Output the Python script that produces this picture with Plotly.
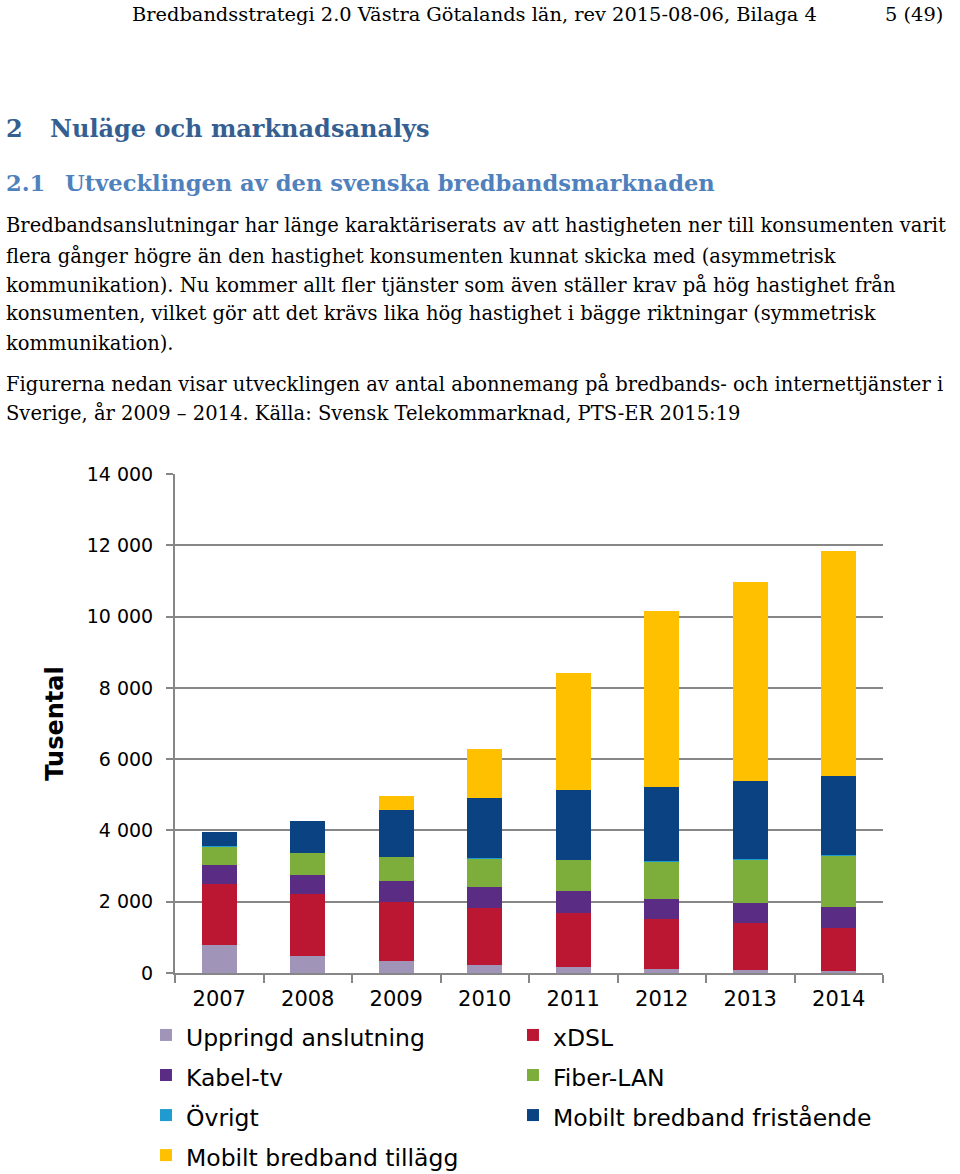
import plotly.graph_objects as go

years = ["2007", "2008", "2009", "2010", "2011", "2012", "2013", "2014"]
uppringd = [795, 490, 325, 235, 180, 100, 80, 60]
xdsl = [1700, 1720, 1665, 1590, 1515, 1405, 1330, 1215]
kabel_tv = [535, 550, 580, 590, 595, 580, 560, 590]
fiber_lan = [520, 610, 690, 795, 890, 1045, 1225, 1445]
ovrigt = [4, 4, 4, 4, 4, 4, 4, 4]
mobilt_fristaende = [390, 885, 1310, 1700, 1955, 2085, 2180, 2205]
mobilt_tillagg = [0, 0, 400, 1370, 3265, 4945, 5580, 6310]

series = [
    ("Uppringd anslutning", uppringd, "#A095B8"),
    ("xDSL", xdsl, "#BB1632"),
    ("Kabel-tv", kabel_tv, "#5B2C83"),
    ("Fiber-LAN", fiber_lan, "#7DAE3B"),
    ("Övrigt", ovrigt, "#1F9BCF"),
    ("Mobilt bredband fristående", mobilt_fristaende, "#0A4282"),
    ("Mobilt bredband tillägg", mobilt_tillagg, "#FFC000"),
]

y_ticks = [0, 2000, 4000, 6000, 8000, 10000, 12000, 14000]
y_ticklabels = ["0", "2 000", "4 000", "6 000", "8 000", "10 000", "12 000", "14 000"]

W, H = 960, 1174
L, R, T, B = 175, 77, 474, 201
PW, PH = W - L - R, H - T - B

fig = go.Figure()
for name, vals, col in series:
    fig.add_trace(go.Bar(
        x=years, y=vals,
        name='<span style="font-size:23.5px">' + name + '</span>',
        marker=dict(color=col, line=dict(width=0)),
    ))

def px(x):
    return (x - L) / PW

def py(y):
    return (H - B - y) / PH

body = "DejaVu Serif, Liberation Serif, serif"
head = "DejaVu Serif, serif"
annots = []
def txt(x, y, s, size, font=body, color="#000000", bold=False, anchor="left"):
    if bold:
        s = "<b>" + s + "</b>"
    annots.append(dict(x=px(x), y=py(y), xref="paper", yref="paper", text=s, showarrow=False,
                       xanchor=anchor, yanchor="middle",
                       font=dict(family=font, size=size, color=color)))

txt(130, 14, "Bredbandsstrategi 2.0 Västra Götalands län, rev 2015-08-06, Bilaga 4", 19.4)
txt(945, 14, "5 (49)", 19.4, anchor="right")
txt(4, 128, "2", 24, head, "#365F91", True)
txt(48, 128, "Nuläge och marknadsanalys", 24, head, "#365F91", True)
txt(4, 183, "2.1", 22.6, head, "#4F81BD", True)
txt(63, 183, "Utvecklingen av den svenska bredbandsmarknaden", 22.6, head, "#4F81BD", True)
lines = [
    (226, "Bredbandsanslutningar har länge karaktäriserats av att hastigheten ner till konsumenten varit"),
    (256, "flera gånger högre än den hastighet konsumenten kunnat skicka med (asymmetrisk"),
    (285, "kommunikation). Nu kommer allt fler tjänster som även ställer krav på hög hastighet från"),
    (314, "konsumenten, vilket gör att det krävs lika hög hastighet i bägge riktningar (symmetrisk"),
    (343, "kommunikation)."),
    (384, "Figurerna nedan visar utvecklingen av antal abonnemang på bredbands- och internettjänster i"),
    (413, "Sverige, år 2009 – 2014. Källa: Svensk Telekommarknad, PTS-ER 2015:19"),
]
for yy, s in lines:
    txt(4, yy, s, 19.5)

fig.update_layout(
    width=W, height=H,
    margin=dict(l=L, r=R, t=T, b=B, pad=0, autoexpand=False),
    paper_bgcolor="white", plot_bgcolor="white",
    barmode="stack", bargap=0.6,
    font=dict(family="DejaVu Sans, Verdana, sans-serif", color="#000000"),
    showlegend=True,
    legend=dict(orientation="h", x=-0.041, y=-0.074, xanchor="left", yanchor="top",
                traceorder="normal", entrywidth=322, entrywidthmode="pixels",
                font=dict(size=28.5, family="DejaVu Sans, Verdana, sans-serif"),
                itemwidth=30),
    annotations=annots,
)
fig.update_xaxes(
    type="category", showline=True, linecolor="#878787", linewidth=2,
    ticks="outside", tickson="boundaries", ticklen=8, tickcolor="#878787", tickwidth=2,
    tickfont=dict(size=21), ticklabelstandoff=6,
    showgrid=False,
)
fig.update_yaxes(
    range=[0, 14000], tickvals=y_ticks, ticktext=y_ticklabels,
    showline=True, linecolor="#878787", linewidth=2,
    ticks="outside", ticklen=7, tickcolor="#878787", tickwidth=2,
    showgrid=True, gridcolor="#878787", gridwidth=2,
    tickfont=dict(size=19), ticklabelstandoff=9, zeroline=False,
    title=dict(text="<b>Tusental</b>", font=dict(size=24), standoff=16),
)

fig.write_html("out.html")
